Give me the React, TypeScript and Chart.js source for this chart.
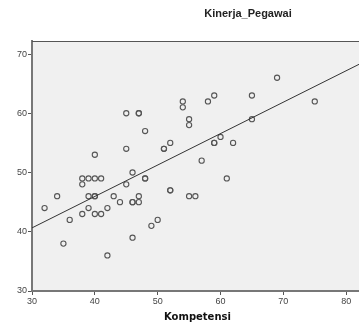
import React, { useEffect, useRef } from 'react';
import { Chart, registerables } from 'chart.js';

Chart.register(...registerables);

// Kompetensi (x) and Kinerja_Pegawai (y)
const kompetensi = [
  32, 34, 35, 36, 38, 39, 40, 41, 38, 39, 40, 40, 39, 38, 40, 41, 42, 42, 43, 44,
  45, 46, 46, 46, 47, 47, 48, 48, 46, 49, 50, 52, 52, 40, 45, 47, 47, 48, 45, 51,
  51, 52, 54, 54, 55, 55, 58, 59, 65, 69, 75, 65, 59, 59, 60, 62, 57, 61, 55, 56,
];
const kinerja = [
  44, 46, 38, 42, 49, 49, 49, 49, 48, 46, 46, 46, 44, 43, 43, 43, 44, 36, 46, 45,
  48, 50, 45, 45, 45, 46, 49, 49, 39, 41, 42, 47, 47, 53, 60, 60, 60, 57, 54, 54,
  54, 55, 62, 61, 59, 58, 62, 63, 63, 66, 62, 59, 55, 55, 56, 55, 52, 49, 46, 46,
];
const xTicks = [30, 40, 50, 60, 70, 80];
const yTicks = [30, 40, 50, 60, 70];
const xRange = [30, 82.66];
const yRange = [30, 72.2];
const fitIntercept = 24.74;
const fitSlope = 0.5305;
const chartTitle = 'Kinerja_Pegawai';
const xTitle = 'Kompetensi';

export default function App() {
  const ref = useRef<HTMLCanvasElement | null>(null);

  useEffect(() => {
    if (!ref.current) return;
    const points = kompetensi.map((x, i) => ({ x, y: kinerja[i] }));
    const fit = xRange.map((x) => ({ x, y: fitIntercept + fitSlope * x }));

    const areaPlugin = {
      id: 'area',
      beforeDraw(chart: any) {
        const { ctx, chartArea: a } = chart;
        ctx.save();
        ctx.fillStyle = '#f0f0f0';
        ctx.fillRect(a.left, a.top, a.right - a.left, a.bottom - a.top);
        ctx.restore();
      },
      afterDraw(chart: any) {
        const { ctx, chartArea: a } = chart;
        ctx.save();
        ctx.strokeStyle = '#555';
        ctx.lineWidth = 1;
        ctx.beginPath();
        ctx.moveTo(a.left, a.top + 0.5);
        ctx.lineTo(a.right, a.top + 0.5);
        ctx.stroke();
        ctx.fillStyle = '#222';
        ctx.font = 'bold 11px "Liberation Sans", Arial, sans-serif';
        ctx.textAlign = 'center';
        ctx.textBaseline = 'middle';
        ctx.fillText(chartTitle, 248, 14);
        ctx.restore();
      },
    };

    const chart = new Chart(ref.current, {
      type: 'scatter',
      data: {
        datasets: [
          {
            type: 'line',
            data: fit,
            borderColor: '#333',
            borderWidth: 1,
            pointRadius: 0,
            fill: false,
          } as any,
          {
            data: points,
            pointRadius: 2.6,
            pointBorderWidth: 1.1,
            pointBorderColor: '#555',
            pointBackgroundColor: 'rgba(0,0,0,0)',
            showLine: false,
          },
        ],
      },
      options: {
        responsive: false,
        animation: false,
        devicePixelRatio: 1,
        layout: { padding: { top: 41, left: 0, right: 0, bottom: 0 } },
        plugins: { legend: { display: false }, tooltip: { enabled: false }, title: { display: false } },
        scales: {
          x: {
            type: 'linear',
            min: xRange[0],
            max: xRange[1],
            afterBuildTicks: (s: any) => { s.ticks = xTicks.map((v) => ({ value: v })); },
            afterFit: (s: any) => { s.height = 33; },
            ticks: {
              font: { family: '"Liberation Sans", Arial, sans-serif', size: 9 },
              color: '#444',
              padding: 1,
              maxRotation: 0,
              autoSkip: false,
            },
            grid: { drawOnChartArea: false, drawTicks: true, tickLength: 4, tickColor: '#555' },
            border: { display: true, color: '#777', width: 2 },
            title: {
              display: true,
              text: xTitle,
              color: '#111',
              font: { family: '"DejaVu Sans", sans-serif', size: 10, weight: 'bold' },
              padding: { top: 0, bottom: 1 },
            },
          },
          y: {
            type: 'linear',
            min: yRange[0],
            max: yRange[1],
            afterBuildTicks: (s: any) => { s.ticks = yTicks.map((v) => ({ value: v })); },
            afterFit: (s: any) => { s.width = 32; },
            ticks: {
              font: { family: '"Liberation Sans", Arial, sans-serif', size: 9 },
              color: '#444',
              padding: 1,
              autoSkip: false,
            },
            grid: { drawOnChartArea: false, drawTicks: true, tickLength: 4, tickColor: '#555' },
            border: { display: true, color: '#777', width: 2 },
          },
        },
      },
      plugins: [areaPlugin],
    });
    return () => chart.destroy();
  }, []);

  return (
    <div style={{ position: 'fixed', left: 0, top: 0, width: 359, height: 324, overflow: 'hidden', background: '#fff' }}>
      <canvas ref={ref} width={368} height={324} style={{ display: 'block' }} />
    </div>
  );
}
